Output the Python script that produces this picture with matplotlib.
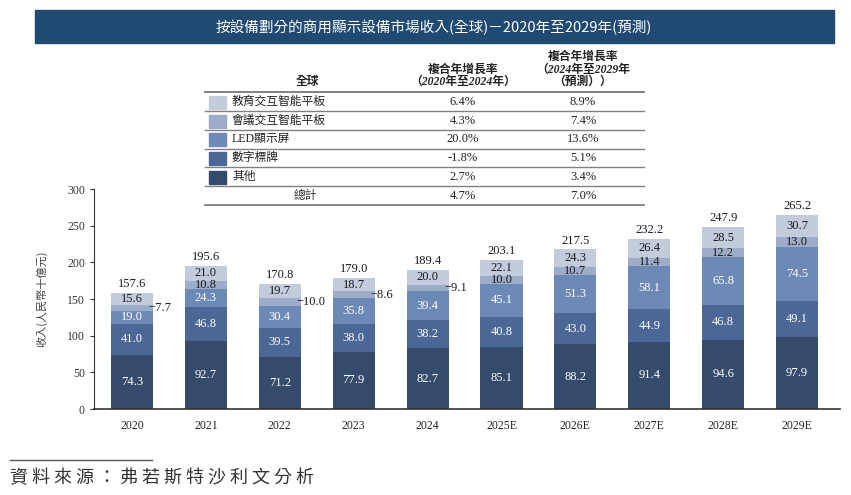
import numpy as np
import matplotlib
matplotlib.use("Agg")
from matplotlib import pyplot as plt

SERIF = ["Liberation Serif", "Noto Sans CJK TC", "DejaVu Sans"]
CJK = ["Noto Sans CJK TC", "DejaVu Sans"]
plt.rcParams["font.family"] = SERIF

# 数据
years = ["2020", "2021", "2022", "2023", "2024", "2025E", "2026E", "2027E", "2028E", "2029E"]
other = [74.3, 92.7, 71.2, 77.9, 82.7, 85.1, 88.2, 91.4, 94.6, 97.9]
signage = [41.0, 46.8, 39.5, 38.0, 38.2, 40.8, 43.0, 44.9, 46.8, 49.1]
led = [19.0, 24.3, 30.4, 35.8, 39.4, 45.1, 51.3, 58.1, 65.8, 74.5]
meeting = [7.7, 10.8, 10.0, 8.6, 9.1, 10.0, 10.7, 11.4, 12.2, 13.0]
edu = [15.6, 21.0, 19.7, 18.7, 20.0, 22.1, 24.3, 26.4, 28.5, 30.7]
totals = [157.6, 195.6, 170.8, 179.0, 189.4, 203.1, 217.5, 232.2, 247.9, 265.2]
meeting_outside = [True, False, True, True, True, False, False, False, False, False]

names = ["其他", "數字標牌", "LED顯示屏", "會議交互智能平板", "教育交互智能平板"]
colors = ["#354b6b", "#4b6795", "#6d89b5", "#9dadc9", "#c2ccdd"]
text_colors = ["white", "white", "white", "#1a1a1a", "#1a1a1a"]
cagr_1 = ["2.7%", "-1.8%", "20.0%", "4.3%", "6.4%"]
cagr_2 = ["3.4%", "5.1%", "13.6%", "7.4%", "8.9%"]
total_cagr = ["4.7%", "7.0%"]

series = [other, signage, led, meeting, edu]

fig = plt.figure(figsize=(8.51, 4.95), dpi=100)

# 覆盖层（像素坐标），用于标题、表格、来源
ov = fig.add_axes([0, 0, 1, 1])
ov.set_xlim(0, 851)
ov.set_ylim(495, 0)
ov.axis("off")

# 标题栏
ov.add_patch(plt.Rectangle((35, 10), 799, 33, color="#204a72"))
ov.text(434, 27, "按設備劃分的商用顯示設備市場收入(全球)－2020年至2029年(預測)",
        color="white", fontsize=10.5, ha="center", va="center", family=CJK)

# 表格
lc = "#808080"
row_y = [177, 158, 139, 121, 102]  # 其他 ... 教育
ov.plot([205, 644], [91.5, 91.5], color=lc, lw=1.4)
for yy in [110.5, 129.5, 148.5, 167, 186]:
    ov.plot([205, 644], [yy, yy], color=lc, lw=1.0)
ov.plot([205, 644], [204.5, 204.5], color=lc, lw=1.3)

hdr = dict(fontsize=8.5, ha="center", va="center", fontweight="bold", style="italic", color="#222222")
ov.text(307, 82, "全球", **hdr)
ov.text(463, 70, "複合年增長率", **hdr)
ov.text(463, 82, "（2020年至2024年）", **hdr)
ov.text(583, 57, "複合年增長率", **hdr)
ov.text(583, 70, "（2024年至2029年", **hdr)
ov.text(583, 82, "（預測））", **hdr)

for k in range(5):
    yy = row_y[k]
    ov.add_patch(plt.Rectangle((209, yy - 6.5), 17, 13, color=colors[k]))
    ov.text(232, yy, names[k], fontsize=8.5, ha="left", va="center", color="#222222")
    ov.text(463, yy, cagr_1[k], fontsize=9, ha="center", va="center", color="#222222")
    ov.text(583, yy, cagr_2[k], fontsize=9, ha="center", va="center", color="#222222")
ov.text(305, 196, "總計", fontsize=8.5, ha="center", va="center", color="#333333", style="italic")
ov.text(463, 196, total_cagr[0], fontsize=9, ha="center", va="center", color="#222222")
ov.text(583, 196, total_cagr[1], fontsize=9, ha="center", va="center", color="#222222")

# 来源
ov.plot([10, 152], [460, 460], color="#555555", lw=1.0)
ov.text(10, 478, " ".join("資料來源：弗若斯特沙利文分析"), fontsize=13, ha="left", va="center",
        color="#333333", family=CJK, fontweight="light")

# 主图
ax = fig.add_axes([94 / 851, 86 / 495, 746 / 851, 220 / 495])
ax.patch.set_alpha(0)
x = np.arange(len(years))
w = 0.57
bottom = np.zeros(len(years))
for k, vals in enumerate(series):
    vals = np.array(vals)
    ax.bar(x, vals, w, bottom=bottom, color=colors[k], zorder=2)
    for i in range(len(years)):
        cy = bottom[i] + vals[i] / 2
        if k == 3 and meeting_outside[i]:
            ax.text(x[i] + w / 2 - 0.06, cy, "−%.1f" % vals[i], fontsize=9,
                    ha="left", va="center", color="#1a1a1a")
        else:
            ax.text(x[i], cy, "%.1f" % vals[i], fontsize=9, ha="center", va="center",
                    color=text_colors[k])
    bottom = bottom + vals

for i in range(len(years)):
    ax.text(x[i], totals[i] + 4, "%.1f" % totals[i], fontsize=9, ha="center", va="bottom",
            color="#1a1a1a")

ax.set_xlim(-0.514, 9.58)
ax.set_ylim(0, 300)
ax.set_yticks(range(0, 301, 50))
ax.set_xticks(x)
ax.set_xticklabels(years)
ax.spines["top"].set_visible(False)
ax.spines["right"].set_visible(False)
ax.spines["left"].set_color("#333333")
ax.spines["bottom"].set_color("#333333")
ax.spines["bottom"].set_linewidth(1.2)
ax.tick_params(axis="x", length=0, pad=8, labelsize=8.5, labelcolor="#222222")
ax.tick_params(axis="y", length=3, labelsize=8.5, labelcolor="#333333", color="#333333")
ax.set_ylabel("收入(人民幣十億元)", family=CJK, fontsize=8, color="#444444", labelpad=14)

fig.savefig("out.png", dpi=100)
